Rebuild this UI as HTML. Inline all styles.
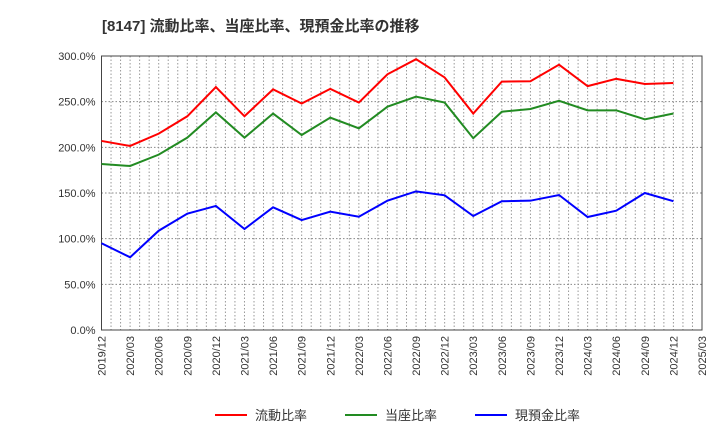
<!DOCTYPE html>
<html><head><meta charset="utf-8"><style>
body{margin:0;background:#fff;}
svg text{font-family:"Liberation Sans","Noto Sans CJK JP",sans-serif;}
</style></head><body>
<svg id="chart" width="720" height="440" xmlns="http://www.w3.org/2000/svg">
<text x="102" y="31" font-size="15" font-weight="bold" fill="#333">[8147]  流動比率、当座比率、現預金比率の推移</text>
<g id="grid"></g><g id="axes"></g><g id="series"></g><g id="legend"></g>
</svg>
<script>
const categories=["2019/12","2020/03","2020/06","2020/09","2020/12","2021/03","2021/06","2021/09","2021/12","2022/03","2022/06","2022/09","2022/12","2023/03","2023/06","2023/09","2023/12","2024/03","2024/06","2024/09","2024/12","2025/03"];
const currentRatio=[207,201.5,215,234,266,234,263.5,248,264,249,280,296.5,276.5,237,272,272.3,290.5,267,275,269.4,270.4];
const quickRatio=[181.8,179.6,192,210.6,238.3,210.6,237,213.5,232.5,220.8,244.5,255.5,249,210,239,242,251,240.5,240.5,230.7,237];
const cashRatio=[95,79.6,108.7,127.4,135.8,110.6,134.3,120.4,129.6,124,141.6,151.8,147.5,124.8,141,141.6,147.8,123.7,130.6,150,141];
const yTicks=[0,50,100,150,200,250,300];
const NS="http://www.w3.org/2000/svg";
const L=101.5,R=702,T=56,B=330,yMax=300;
const xs=i=>L+(R-L)*i/(categories.length-1);
const ys=v=>B-(B-T)*v/yMax;
function mk(tag,attrs,parent){const e=document.createElementNS(NS,tag);for(const k in attrs)e.setAttribute(k,attrs[k]);parent.appendChild(e);return e;}
const grid=document.getElementById('grid'),axes=document.getElementById('axes'),ser=document.getElementById('series'),leg=document.getElementById('legend');
// monthly vertical gridlines
for(let m=1;m<(categories.length-1)*3;m++){const x=L+(R-L)*m/((categories.length-1)*3);
const g=mk('line',{x1:x,x2:x,y1:T,y2:B,stroke:'#999','stroke-width':1,'stroke-dasharray':'1.5,2'},grid);

}
yTicks.forEach(v=>{const y=ys(v);
const g=mk('line',{x1:L,x2:R,y1:y,y2:y,stroke:'#888','stroke-width':1,'stroke-dasharray':'1.5,2'},grid);


const t=mk('text',{x:L-6,y:y+4,'font-size':11,fill:'#333','text-anchor':'end'},axes);t.textContent=v.toFixed(1)+'%';

});
categories.forEach((c,i)=>{const x=xs(i);
const t=mk('text',{x:x+4,y:B+6,'font-size':11,fill:'#333','text-anchor':'end',transform:`rotate(-90 ${x+4} ${B+6})`},axes);t.textContent=c;

});
const frame=mk('rect',{x:L,y:T,width:R-L,height:B-T,fill:'none',stroke:'#444','stroke-width':1},axes);


const defs=[[currentRatio,'#ff0000','current-ratio-line','流動比率'],[quickRatio,'#228b22','quick-ratio-line','当座比率'],[cashRatio,'#0000ff','cash-ratio-line','現預金比率']];
defs.forEach(([d,col,name])=>{const p=mk('polyline',{points:d.map((v,i)=>xs(i)+','+ys(v)).join(' '),fill:'none',stroke:col,'stroke-width':2},ser);

});
const lx=[215,345,475];
defs.forEach(([d,col,name,label],k)=>{const g=mk('g',{},leg);


mk('line',{x1:lx[k],x2:lx[k]+32,y1:415,y2:415,stroke:col,'stroke-width':2},g);
const t=mk('text',{x:lx[k]+40,y:420,'font-size':13,fill:'#333'},g);t.textContent=label;});
</script>
</body></html>
